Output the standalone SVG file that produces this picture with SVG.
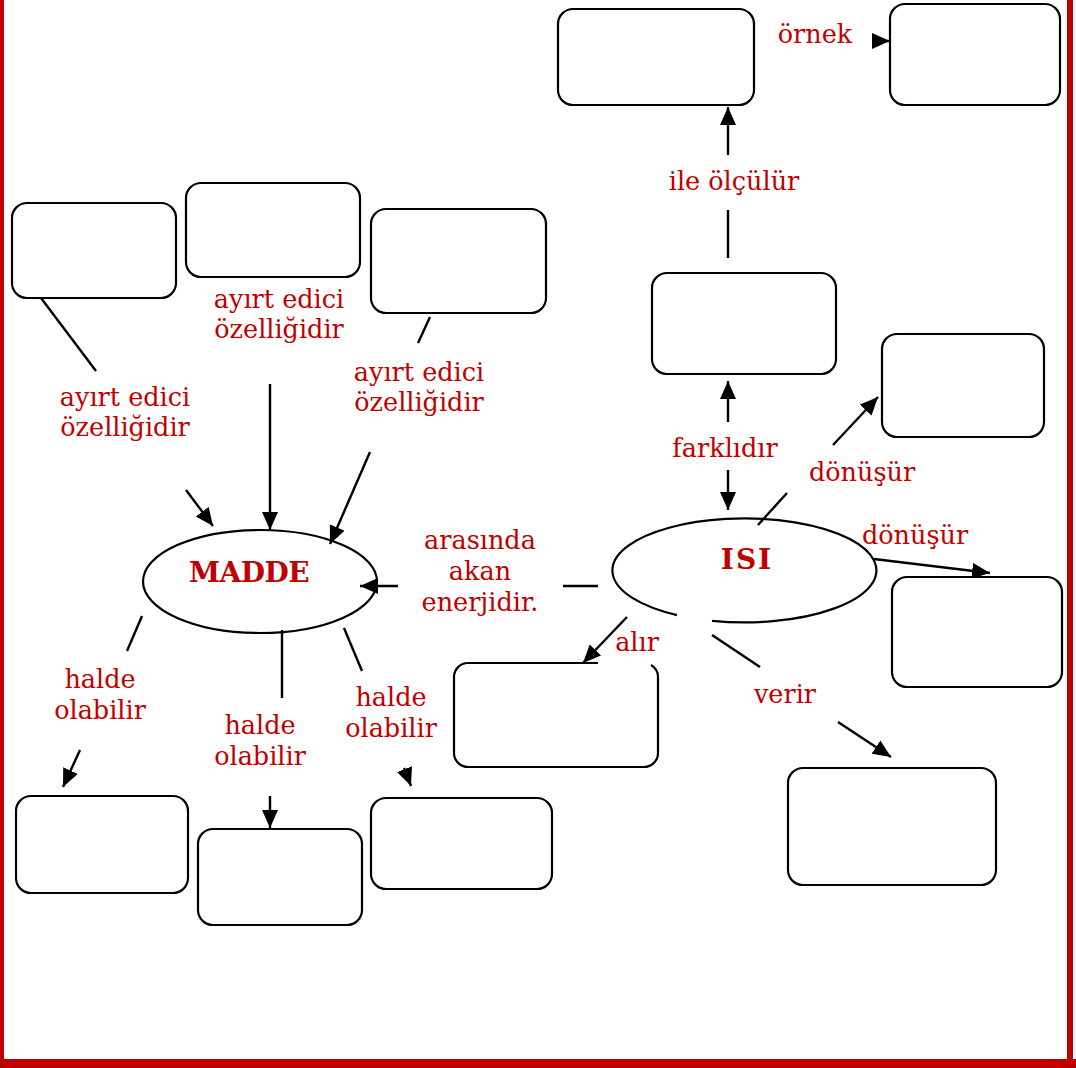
<svg xmlns="http://www.w3.org/2000/svg" width="1076" height="1068" viewBox="0 0 1076 1068">
  <style>
    .box { fill: #ffffff; stroke: #000000; stroke-width: 2.2; }
    .ell { fill: #ffffff; stroke: #000000; stroke-width: 2.2; }
    .ln { fill: none; stroke: #000000; stroke-width: 2.4; }
    .arr { fill: none; stroke: #000000; stroke-width: 2.4; marker-end: url(#head); }
    .lbl { font-family: "DejaVu Serif", "Liberation Serif", serif; font-size: 25.5px; fill: #c00000; text-anchor: middle; }
    .title { font-family: "DejaVu Serif", "Liberation Serif", serif; font-weight: bold; font-size: 28px; fill: #c00000; text-anchor: middle; }
    .frame { fill: #c00000; }
  </style>
  <defs>
    <marker id="head" markerUnits="userSpaceOnUse" markerWidth="19" markerHeight="17" refX="18" refY="8" orient="auto">
      <path d="M0,0 L18,8 L0,16 z" fill="#000000"/>
    </marker>
  </defs>

  <rect width="1076" height="1068" fill="#ffffff"/>

  <!-- page frame: left, right and bottom bars -->
  <g id="frame">
    <rect class="frame" x="0" y="0" width="4" height="1068"/>
    <rect class="frame" x="1067" y="0" width="6" height="1068"/>
    <rect class="frame" x="0" y="1059" width="1076" height="9"/>
  </g>

  <!-- central concepts -->
  <g id="madde">
    <ellipse class="ell" cx="260" cy="581.5" rx="117" ry="51.5"/>
    <text class="title" x="249" y="582" letter-spacing="-0.5">MADDE</text>
  </g>
  <g id="isi">
    <path class="ell" d="M712 620.8 A132 52 0 1 0 677 615.1"/>
    <text class="title" x="747" y="569" letter-spacing="2">ISI</text>
  </g>

  <!-- connectors -->
  <g id="connectors">
    <!-- boxes above MADDE -->
    <line class="ln" x1="41" y1="298" x2="96" y2="371"/>
    <line class="arr" x1="186" y1="490" x2="213" y2="526"/>
    <line class="arr" x1="270" y1="384" x2="270" y2="530"/>
    <line class="ln" x1="430" y1="317" x2="418" y2="343"/>
    <line class="arr" x1="370" y1="452" x2="330" y2="544"/>
    <!-- ISI to MADDE -->
    <line class="ln" x1="598" y1="586" x2="563" y2="586"/>
    <line class="arr" x1="398" y1="586" x2="360" y2="586"/>
    <!-- MADDE downwards -->
    <line class="ln" x1="142" y1="616" x2="127" y2="651"/>
    <line class="arr" x1="80" y1="750" x2="63" y2="787"/>
    <line class="ln" x1="282" y1="630" x2="282" y2="698"/>
    <line class="arr" x1="270" y1="796" x2="270" y2="828"/>
    <line class="ln" x1="344" y1="628" x2="362" y2="671"/>
    <line class="arr" x1="404" y1="768" x2="411" y2="786"/>
    <!-- ISI upwards -->
    <line class="arr" x1="728" y1="422" x2="728" y2="381"/>
    <line class="arr" x1="728" y1="470" x2="728" y2="510"/>
    <line class="ln" x1="728" y1="258" x2="728" y2="210"/>
    <line class="arr" x1="728" y1="155" x2="728" y2="107"/>
    <line class="arr" x1="873" y1="41" x2="890" y2="41"/>
    <!-- ISI to the right -->
    <line class="ln" x1="758" y1="525" x2="787" y2="493"/>
    <line class="arr" x1="833" y1="445" x2="878" y2="397"/>
    <line class="arr" x1="874" y1="559" x2="990" y2="573"/>
    <!-- ISI downwards -->
    <line class="arr" x1="627" y1="617" x2="583" y2="663"/>
    <line class="ln" x1="712" y1="635" x2="760" y2="667"/>
    <line class="arr" x1="838" y1="722" x2="891" y2="757"/>
  </g>

  <!-- empty answer boxes -->
  <g id="box-a"><rect class="box" x="12" y="203" width="164" height="95" rx="15"/></g>
  <g id="box-b"><rect class="box" x="186" y="183" width="174" height="94" rx="15"/></g>
  <g id="box-c"><rect class="box" x="371" y="209" width="175" height="104" rx="15"/></g>
  <g id="box-d"><rect class="box" x="558" y="9" width="196" height="96" rx="15"/></g>
  <g id="box-e"><rect class="box" x="890" y="4" width="170" height="101" rx="15"/></g>
  <g id="box-f"><rect class="box" x="652" y="273" width="184" height="101" rx="15"/></g>
  <g id="box-g"><rect class="box" x="882" y="334" width="162" height="103" rx="15"/></g>
  <g id="box-h"><rect class="box" x="892" y="577" width="170" height="110" rx="15"/></g>
  <g id="box-i"><path class="box" d="M598 663 H468 A14 14 0 0 0 454 677 V753 A14 14 0 0 0 468 767 H644 A14 14 0 0 0 658 753 V677 A14 14 0 0 0 651 665"/></g>
  <g id="box-j"><rect class="box" x="788" y="768" width="208" height="117" rx="15"/></g>
  <g id="box-k"><rect class="box" x="16" y="796" width="172" height="97" rx="15"/></g>
  <g id="box-l"><rect class="box" x="198" y="829" width="164" height="96" rx="15"/></g>
  <g id="box-m"><rect class="box" x="371" y="798" width="181" height="91" rx="15"/></g>

  <!-- connector labels -->
  <g id="labels">
    <text class="lbl" x="125" y="406">ayırt edici</text>
    <text class="lbl" x="125" y="436">özelliğidir</text>
    <text class="lbl" x="279" y="308">ayırt edici</text>
    <text class="lbl" x="279" y="338">özelliğidir</text>
    <text class="lbl" x="419" y="381">ayırt edici</text>
    <text class="lbl" x="419" y="411">özelliğidir</text>
    <text class="lbl" x="480" y="549">arasında</text>
    <text class="lbl" x="480" y="580">akan</text>
    <text class="lbl" x="480" y="611">enerjidir.</text>
    <text class="lbl" x="100" y="688">halde</text>
    <text class="lbl" x="100" y="719">olabilir</text>
    <text class="lbl" x="260" y="734">halde</text>
    <text class="lbl" x="260" y="765">olabilir</text>
    <text class="lbl" x="391" y="706">halde</text>
    <text class="lbl" x="391" y="737">olabilir</text>
    <text class="lbl" x="725" y="457">farklıdır</text>
    <text class="lbl" x="734" y="190">ile ölçülür</text>
    <text class="lbl" x="815" y="43">örnek</text>
    <text class="lbl" x="862" y="481">dönüşür</text>
    <text class="lbl" x="915" y="544">dönüşür</text>
    <text class="lbl" x="637" y="651">alır</text>
    <text class="lbl" x="785" y="703">verir</text>
  </g>
</svg>
